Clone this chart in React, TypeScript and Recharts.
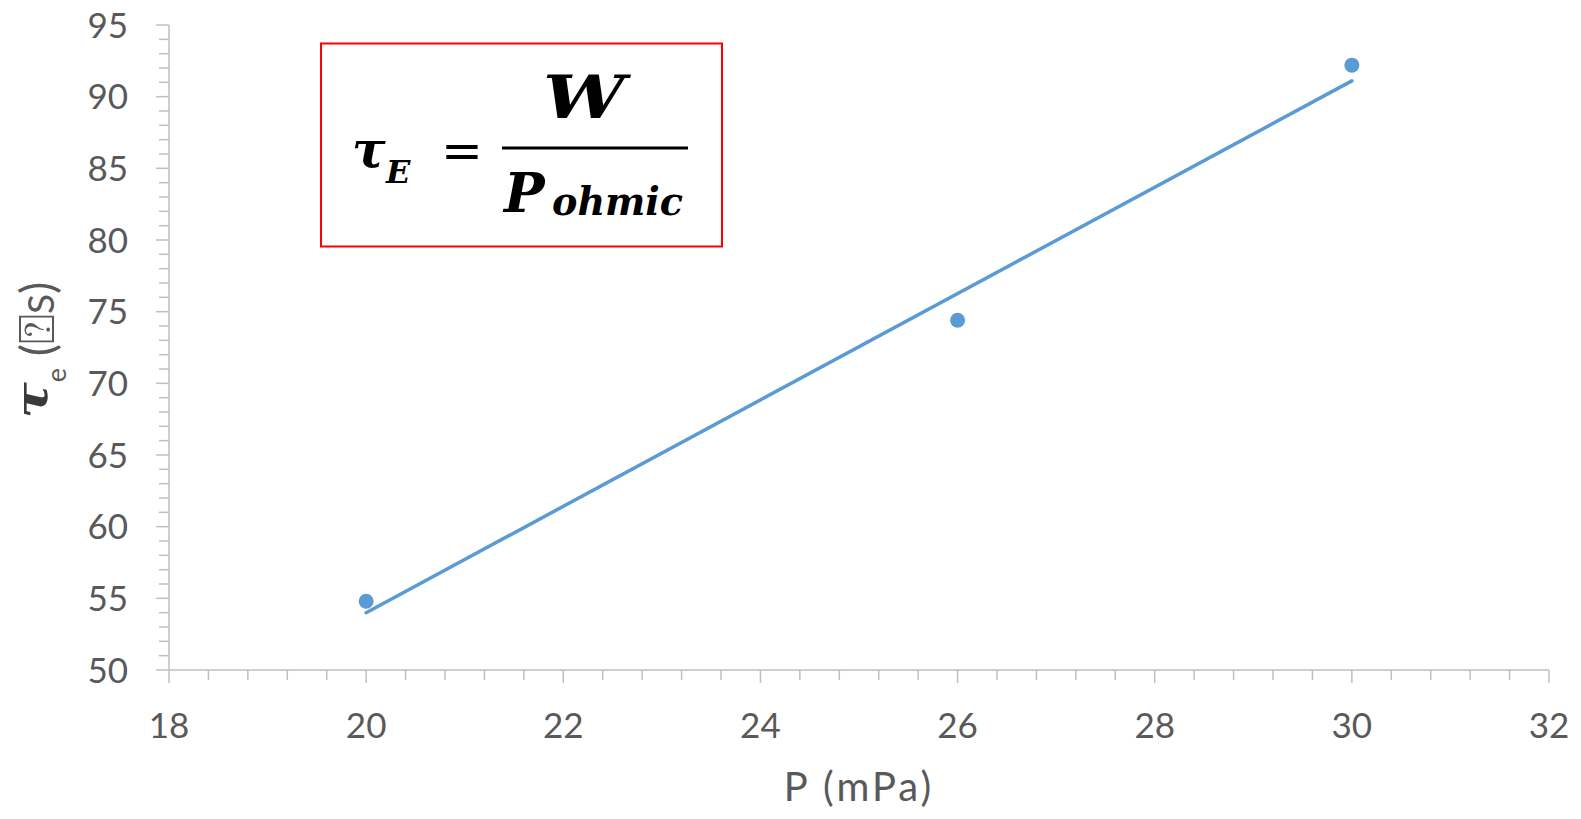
import { Label, Scatter, ScatterChart, XAxis, YAxis } from 'recharts';

// measured points
const pressure = [20, 26, 30];
const tauE = [54.8, 74.4, 92.2];

// linear trend line end points (as drawn)
const trendP = [20, 30];
const trendTau = [54.0, 91.1];

const xMajor = [18, 20, 22, 24, 26, 28, 30, 32];
const yMajor = [50, 55, 60, 65, 70, 75, 80, 85, 90, 95];
const xMinorStep = 0.4;
const yMinorStep = 1;

const BLUE = '#5b9bd5';
const AXIS = '#bfbfbf';
const TEXT = '#595959';
const FONT = 'Lato, "Open Sans", sans-serif';
const MATH = '"DejaVu Serif", serif';

const points = pressure.map((p, i) => ({ x: p, y: tauE[i] }));
const trend = trendP.map((p, i) => ({ x: p, y: trendTau[i] }));

function minorTicks(from: number, to: number, step: number) {
  const n = Math.round((to - from) / step);
  return Array.from({ length: n + 1 }, (_, i) => Math.round((from + i * step) * 100) / 100);
}

const xTicks = minorTicks(18, 32, xMinorStep);
const yTicks = minorTicks(50, 95, yMinorStep);

const isMajor = (list: number[], v: number) => list.some((m) => Math.abs(m - v) < 1e-6);

function XTick(props: any) {
  const { x, y, payload } = props;
  const v = payload.value;
  const major = isMajor(xMajor, v);
  return (
    <g>
      <line x1={x} x2={x} y1={y} y2={y + (major ? 13 : 10)} stroke={AXIS} strokeWidth={1.5} />
      {major && (
        <text x={x} y={y + 68} textAnchor="middle" fontSize={35} fontFamily={FONT} fill={TEXT}>
          {v}
        </text>
      )}
    </g>
  );
}

function YTick(props: any) {
  const { x, y, payload } = props;
  const v = payload.value;
  const major = isMajor(yMajor, v);
  return (
    <g>
      <line x1={x} x2={x - (major ? 13 : 10)} y1={y} y2={y} stroke={AXIS} strokeWidth={1.5} />
      {major && (
        <text x={x - 41} y={y + 12.5} textAnchor="end" fontSize={35} fontFamily={FONT} fill={TEXT}>
          {v}
        </text>
      )}
    </g>
  );
}

function YTitle() {
  return (
    <text transform="rotate(-90, 54, 350)" x={54} y={350} textAnchor="middle" fill={TEXT} fontFamily={FONT}>
      <tspan
        fontFamily={MATH}
        fontWeight="bold"
        fontStyle="italic"
        fontSize={44}
        fill="#3a3a3a"
        dy={-7}
        textLength={36}
        lengthAdjust="spacingAndGlyphs"
      >
        τ
      </tspan>
      <tspan fontSize={27} dy={19}>e</tspan>
      <tspan fontSize={46} dy={-12}> (</tspan>
      <tspan fontSize={50}>⍰</tspan>
      <tspan fontSize={37}>S</tspan>
      <tspan fontSize={46}>)</tspan>
    </text>
  );
}

function Formula() {
  const f = { fontFamily: MATH, fontWeight: 'bold' as const, fontStyle: 'italic' as const, fill: '#000' };
  return (
    <svg width={1581} height={819} style={{ position: 'absolute', left: 0, top: 0, pointerEvents: 'none' }}>
      <rect x={321} y={43.5} width={401} height={203} fill="none" stroke="#ff0000" strokeWidth={2} />
      <text {...f} x={352} y={167} fontSize={50}>τ</text>
      <text {...f} x={386} y={183} fontSize={32}>E</text>
      <text {...f} fontWeight="normal" fontStyle="normal" x={462} y={168} fontSize={50} textAnchor="middle">=</text>
      <line x1={502} x2={688} y1={148} y2={148} stroke="#000" strokeWidth={3} />
      <text {...f} x={543} y={118} fontSize={60} textLength={82} lengthAdjust="spacingAndGlyphs">W</text>
      <text {...f} x={504} y={212} fontSize={54}>P</text>
      <text {...f} x={552} y={215} fontSize={40} textLength={131} lengthAdjust="spacingAndGlyphs">ohmic</text>
    </svg>
  );
}

export default function App() {
  return (
    <div style={{ position: 'absolute', left: 0, top: 0, width: 1581, height: 819, background: '#fff' }}>
      <ScatterChart width={1581} height={819} margin={{ top: 25, right: 32, bottom: 0, left: 0 }}>
        <XAxis
          type="number"
          dataKey="x"
          domain={[18, 32]}
          ticks={xTicks}
          interval={0}
          allowDataOverflow
          height={149}
          tickSize={0}
          tickMargin={0}
          tickLine={false}
          axisLine={{ stroke: AXIS, strokeWidth: 1.5 }}
          tick={<XTick />}
        >
          <Label
            value="P (mPa)"
            position="insideBottom"
            offset={18}
            fontSize={40}
            letterSpacing={3}
            fontFamily={FONT}
            fill={TEXT}
          />
        </XAxis>
        <YAxis
          type="number"
          dataKey="y"
          domain={[50, 95]}
          ticks={yTicks}
          interval={0}
          allowDataOverflow
          width={169}
          tickSize={0}
          tickMargin={0}
          tickLine={false}
          axisLine={{ stroke: AXIS, strokeWidth: 1.5 }}
          tick={<YTick />}
        >
          <Label content={<YTitle />} />
        </YAxis>
        <Scatter
          data={trend}
          line={{ stroke: BLUE, strokeWidth: 3.5, strokeLinecap: 'round' }}
          lineType="joint"
          shape={() => <g />}
          isAnimationActive={false}
        />
        <Scatter
          data={points}
          fill={BLUE}
          shape={(p: any) => <circle cx={p.cx} cy={p.cy} r={7.5} fill={BLUE} />}
          isAnimationActive={false}
        />
      </ScatterChart>
      <Formula />
    </div>
  );
}
